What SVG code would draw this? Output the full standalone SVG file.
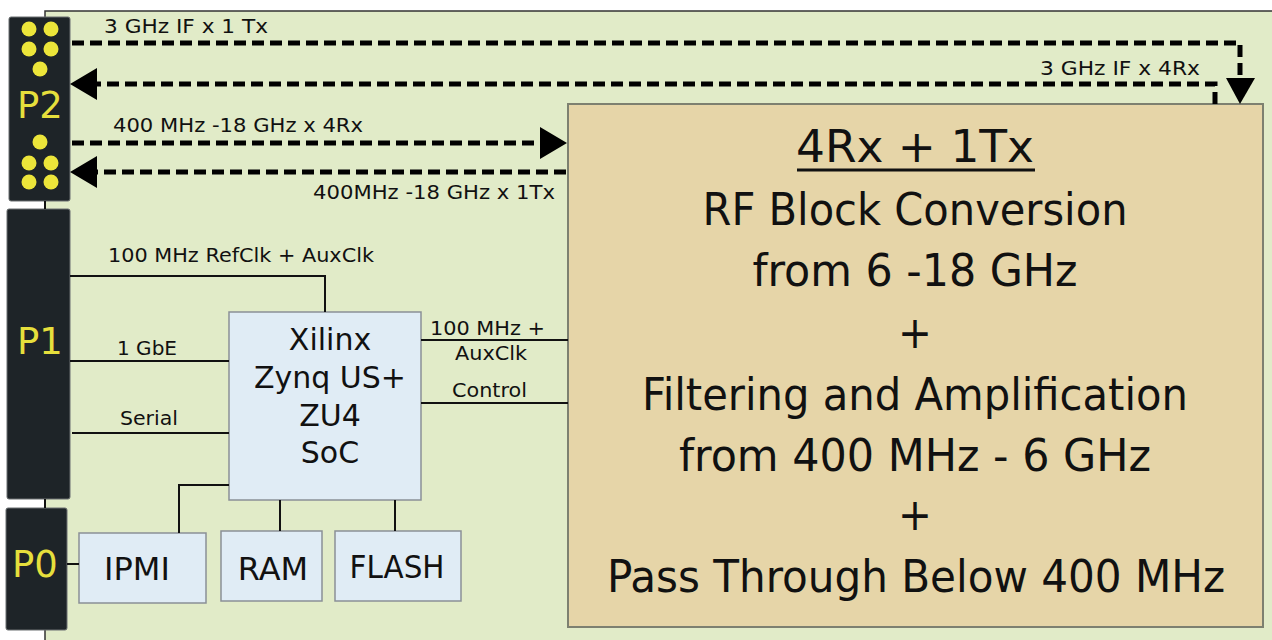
<svg xmlns="http://www.w3.org/2000/svg" width="1272" height="640" viewBox="0 0 1272 640">
<style>
.conn{fill:#1e2428;stroke:#6b6f70;stroke-width:1}
.dot{fill:#ece53a}
.plab{font-family:"DejaVu Sans",Verdana,sans-serif;font-size:37px;fill:#e6df3c;text-anchor:middle}
.lbl{font-family:"DejaVu Sans",Verdana,sans-serif;font-size:20px;fill:#111}
.blue{fill:#e0ecf5;stroke:#8a9096;stroke-width:1.5}
.btxt{font-family:"DejaVu Sans",Verdana,sans-serif;font-size:30px;fill:#111;text-anchor:middle}
.btxt2{font-family:"DejaVu Sans",Verdana,sans-serif;font-size:32px;fill:#111;text-anchor:middle}
.rf{font-family:"DejaVu Sans Condensed","DejaVu Sans",Verdana,sans-serif;font-size:45px;fill:#111;text-anchor:middle}
.wire{fill:none;stroke:#111;stroke-width:2}
.dash{fill:none;stroke:#000;stroke-width:5;stroke-dasharray:12 6}
.arr{fill:#000}
</style>
<rect x="0" y="0" width="1272" height="640" fill="#ffffff"/>
<rect id="board" x="45" y="11" width="1240" height="640" fill="#e1ebc8" stroke="#333" stroke-width="1.5"/>

<g id="P2">
<rect class="conn" x="9" y="17" width="61" height="184" rx="2"/>
<circle class="dot" cx="29" cy="29" r="7.5"/><circle class="dot" cx="51" cy="29" r="7.5"/>
<circle class="dot" cx="29" cy="49" r="7.5"/><circle class="dot" cx="51" cy="49" r="7.5"/>
<circle class="dot" cx="40" cy="69" r="7.5"/>
<circle class="dot" cx="40" cy="142" r="7.5"/>
<circle class="dot" cx="29" cy="163" r="7.5"/><circle class="dot" cx="51" cy="163" r="7.5"/>
<circle class="dot" cx="29" cy="182" r="7.5"/><circle class="dot" cx="51" cy="182" r="7.5"/>
<text class="plab" x="40" y="118">P2</text>
</g>
<g id="P1">
<rect class="conn" x="7" y="209" width="63" height="290" rx="2"/>
<text class="plab" x="40" y="354">P1</text>
</g>
<g id="P0">
<rect class="conn" x="6" y="508" width="61" height="122" rx="2"/>
<text class="plab" x="35" y="577">P0</text>
</g>

<g id="soc">
<rect class="blue" x="229" y="312" width="192" height="188"/>
<text class="btxt" x="330" y="350">Xilinx</text>
<text class="btxt" x="330" y="388">Zynq US+</text>
<text class="btxt" x="330" y="426">ZU4</text>
<text class="btxt" x="330" y="463">SoC</text>
</g>
<g id="ipmi">
<rect class="blue" x="79" y="533" width="127" height="70"/>
<text class="btxt2" x="137" y="580">IPMI</text>
</g>
<g id="ram">
<rect class="blue" x="221" y="531" width="101" height="70"/>
<text class="btxt2" x="273" y="580">RAM</text>
</g>
<g id="flash">
<rect class="blue" x="335" y="531" width="126" height="70"/>
<text class="btxt2" x="397" y="578" textLength="95" lengthAdjust="spacingAndGlyphs">FLASH</text>
</g>

<g id="rfblock">
<rect x="568" y="104" width="695" height="523" fill="#e6d5a8" stroke="#7d8070" stroke-width="2"/>
<text class="rf" x="915" y="162" textLength="238" lengthAdjust="spacingAndGlyphs">4Rx + 1Tx</text>
<line x1="797" y1="170" x2="1035" y2="170" stroke="#111" stroke-width="3"/>
<text class="rf" x="915" y="225" textLength="425" lengthAdjust="spacingAndGlyphs">RF Block Conversion</text>
<text class="rf" x="915" y="286" textLength="325" lengthAdjust="spacingAndGlyphs">from 6 -18 GHz</text>
<text class="rf" x="915" y="348">+</text>
<text class="rf" x="915" y="410" textLength="546" lengthAdjust="spacingAndGlyphs">Filtering and Amplification</text>
<text class="rf" x="915" y="471" textLength="472" lengthAdjust="spacingAndGlyphs">from 400 MHz - 6 GHz</text>
<text class="rf" x="915" y="530">+</text>
<text class="rf" x="916" y="592" textLength="618" lengthAdjust="spacingAndGlyphs">Pass Through Below 400 MHz</text>
</g>

<g id="connectors">
<path class="wire" d="M70,276 H325 V312"/>
<path class="wire" d="M70,361 H229"/>
<path class="wire" d="M72,433 H229"/>
<path class="wire" d="M229,485 H179 V533"/>
<path class="wire" d="M280,500 V531"/>
<path class="wire" d="M395,500 V531"/>
<path class="wire" d="M67,564 H79"/>
<path class="wire" d="M421,340 H568"/>
<path class="wire" d="M421,403 H568"/>
<path class="wire" d="M45,201 V209"/>
<path class="wire" d="M45,499 V508"/>

<path class="dash" d="M72,43 H1240 V78"/>
<polygon class="arr" points="1226,78 1255,78 1240,104"/>
<path class="dash" d="M1215,104 V84 H96"/>
<polygon class="arr" points="70,84 97,68 97,100"/>
<path class="dash" d="M72,143 H541"/>
<polygon class="arr" points="567,143 540,127 540,159"/>
<path class="dash" d="M566,172 H96"/>
<polygon class="arr" points="70,172 97,156 97,188"/>

<text class="lbl" x="104" y="33" textLength="164" lengthAdjust="spacingAndGlyphs">3 GHz IF x 1 Tx</text>
<text class="lbl" x="1040" y="75" textLength="160" lengthAdjust="spacingAndGlyphs">3 GHz IF x 4Rx</text>
<text class="lbl" x="113" y="132" textLength="250" lengthAdjust="spacingAndGlyphs">400 MHz -18 GHz x 4Rx</text>
<text class="lbl" x="313" y="199" textLength="242" lengthAdjust="spacingAndGlyphs">400MHz -18 GHz x 1Tx</text>
<text class="lbl" x="108" y="262" textLength="266" lengthAdjust="spacingAndGlyphs">100 MHz RefClk + AuxClk</text>
<text class="lbl" x="117" y="355" textLength="60" lengthAdjust="spacingAndGlyphs">1 GbE</text>
<text class="lbl" x="120" y="425" textLength="58" lengthAdjust="spacingAndGlyphs">Serial</text>
<text class="lbl" x="430" y="335" textLength="115" lengthAdjust="spacingAndGlyphs">100 MHz +</text>
<text class="lbl" x="455" y="360" textLength="72" lengthAdjust="spacingAndGlyphs">AuxClk</text>
<text class="lbl" x="452" y="397" textLength="75" lengthAdjust="spacingAndGlyphs">Control</text>
</g>
</svg>
